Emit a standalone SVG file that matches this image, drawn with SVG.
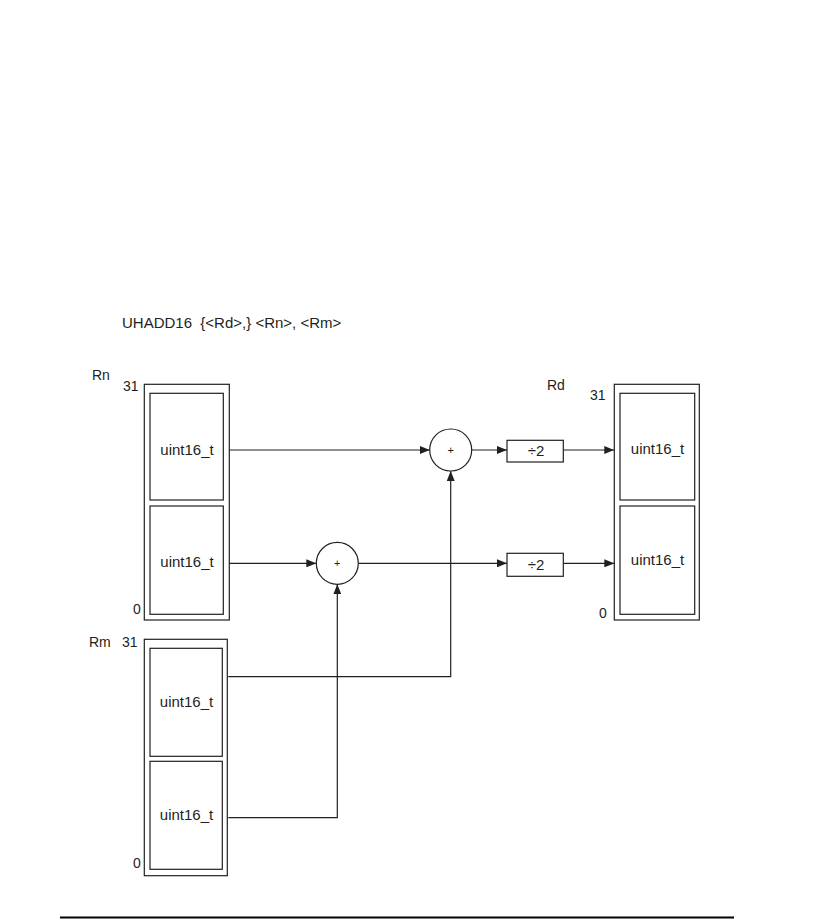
<svg xmlns="http://www.w3.org/2000/svg" width="834" height="919" viewBox="0 0 834 919">
<style>
text{font-family:"Liberation Sans",Arial,sans-serif;fill:#231f20;font-size:15px}
.c{text-anchor:middle}
.n{font-size:14px}
.box{fill:#fff;stroke:#231f20;stroke-width:1.2}
.ln{fill:none;stroke:#231f20;stroke-width:1.2}
.sm{font-size:11px}
</style>
<defs>
<marker id="ah" viewBox="0 0 10 8" refX="10" refY="4" markerWidth="10" markerHeight="8" markerUnits="userSpaceOnUse" orient="auto">
<path d="M0,0 L10,4 L0,8 Z" fill="#231f20"/>
</marker>
</defs>
<rect width="834" height="919" fill="#fff"/>
<text x="122" y="328" xml:space="preserve" style="white-space:pre">UHADD16  {&lt;Rd&gt;,} &lt;Rn&gt;, &lt;Rm&gt;</text>

<g id="Rn">
<rect class="box" x="144.3" y="384.3" width="85" height="235.7"/>
<rect class="box" x="150" y="393.3" width="73.3" height="106.7"/>
<rect class="box" x="150" y="506" width="73.3" height="108.3"/>
<text class="c" x="187" y="455">uint16_t</text>
<text class="c" x="187" y="567">uint16_t</text>
<text class="n" x="92" y="380">Rn</text>
<text class="n" x="123" y="391">31</text>
<text class="n" x="133" y="614">0</text>
</g>

<g id="Rm">
<rect class="box" x="144.3" y="639.3" width="83" height="236.4"/>
<rect class="box" x="150" y="648.3" width="72.3" height="108"/>
<rect class="box" x="150" y="761.3" width="72.3" height="108"/>
<text class="c" x="186.5" y="707">uint16_t</text>
<text class="c" x="186.5" y="820">uint16_t</text>
<text class="n" x="89" y="647">Rm</text>
<text class="n" x="122" y="647">31</text>
<text class="n" x="133" y="868">0</text>
</g>

<g id="Rd">
<rect class="box" x="614.3" y="384.3" width="85" height="235.7"/>
<rect class="box" x="620" y="393.3" width="74.7" height="106.7"/>
<rect class="box" x="620" y="506" width="74.7" height="108.3"/>
<text class="c" x="657.5" y="454">uint16_t</text>
<text class="c" x="657.5" y="565">uint16_t</text>
<text class="n" x="547" y="390">Rd</text>
<text class="n" x="590" y="400">31</text>
<text class="n" x="599" y="618">0</text>
</g>

<g id="add_hi">
<circle class="box" cx="450.7" cy="450" r="21"/>
<text class="c sm" x="450.7" y="454">+</text>
</g>
<g id="add_lo">
<circle class="box" cx="337.3" cy="563.3" r="21"/>
<text class="c sm" x="337.3" y="567.3">+</text>
</g>
<g id="div_hi">
<rect class="box" x="507" y="440.3" width="56.3" height="21.7"/>
<text class="c" x="536" y="456">÷2</text>
</g>
<g id="div_lo">
<rect class="box" x="507" y="553.3" width="56.3" height="23"/>
<text class="c" x="536" y="570">÷2</text>
</g>

<g id="connectors">
<path class="ln" d="M229.3,450 H429.7" marker-end="url(#ah)"/>
<path class="ln" d="M471.7,450 H507" marker-end="url(#ah)"/>
<path class="ln" d="M563.3,450 H614.3" marker-end="url(#ah)"/>
<path class="ln" d="M229.3,563.3 H316.3" marker-end="url(#ah)"/>
<path class="ln" d="M358.3,563.3 H507" marker-end="url(#ah)"/>
<path class="ln" d="M563.3,563.3 H614.3" marker-end="url(#ah)"/>
<path class="ln" d="M228.3,676.7 H450.7 V471" marker-end="url(#ah)"/>
<path class="ln" d="M228.3,817.7 H337.3 V584.3" marker-end="url(#ah)"/>
</g>

<line x1="60" y1="917.5" x2="734" y2="917.5" stroke="#000" stroke-width="2"/>
</svg>
